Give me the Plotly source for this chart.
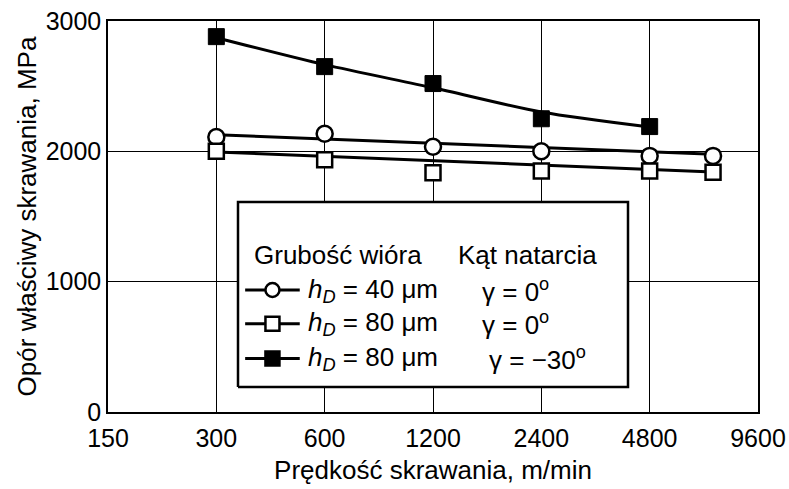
import plotly.graph_objects as go
import math

# ---- data ----
speed6 = [300, 600, 1200, 2400, 4800, 7200]
speed5 = [300, 600, 1200, 2400, 4800]
circle_h40_g0 = [2110, 2135, 2035, 2000, 1965, 1965]
open_h80_g0 = [2000, 1935, 1835, 1850, 1850, 1840]
filled_h80_g30 = [2880, 2650, 2520, 2250, 2190]

# fitted trend lines
fit_lin_x = [300, 7200]
fit_circle = [2128, 1977]
fit_open = [1995, 1841]
fit_filled_x = [300, 600, 1200, 2400, 4800]
fit_filled = [2872, 2665, 2488, 2302, 2187]

xticks = [150, 300, 600, 1200, 2400, 4800, 9600]
yticks = [0, 1000, 2000, 3000]

x_title = "Prędkość skrawania, m/min"
y_title = "Opór właściwy skrawania, MPa"
legend_header_1 = "Grubość wióra"
legend_header_2 = "Kąt natarcia"
legend_rows = [
    ("<i>h<sub>D</sub></i> = 40 μm", "γ = 0<sup>o</sup>", "circle", "white"),
    ("<i>h<sub>D</sub></i> = 80 μm", "γ = 0<sup>o</sup>", "square", "white"),
    ("<i>h<sub>D</sub></i> = 80 μm", "γ = −30<sup>o</sup>", "square", "black"),
]

FONT = "Liberation Sans, Arial, sans-serif"
FS = 26
TFS = 25
LW = 3

fig = go.Figure()

# trend lines
fig.add_trace(go.Scatter(x=fit_lin_x, y=fit_circle, mode="lines",
                         line=dict(color="black", width=LW), showlegend=False))
fig.add_trace(go.Scatter(x=fit_lin_x, y=fit_open, mode="lines",
                         line=dict(color="black", width=LW), showlegend=False))
fig.add_trace(go.Scatter(x=fit_filled_x, y=fit_filled, mode="lines",
                         line=dict(color="black", width=LW, shape="spline", smoothing=0.8),
                         showlegend=False))

# markers
fig.add_trace(go.Scatter(x=speed6, y=circle_h40_g0, mode="markers",
                         marker=dict(symbol="circle", size=16, color="white",
                                     line=dict(color="black", width=2.5)),
                         showlegend=False))
fig.add_trace(go.Scatter(x=speed6, y=open_h80_g0, mode="markers",
                         marker=dict(symbol="square", size=15, color="white",
                                     line=dict(color="black", width=2.5)),
                         showlegend=False))
fig.add_trace(go.Scatter(x=speed5, y=filled_h80_g30, mode="markers",
                         marker=dict(symbol="square", size=16, color="black",
                                     line=dict(color="black", width=1)),
                         showlegend=False))

# ---- custom legend box (on an overlay axis spanning the plot area) ----
bx0, bx1 = 0.20, 0.80
by0, by1 = 0.064, 0.537
fig.add_trace(go.Scatter(x=[bx0, bx1, bx1, bx0, bx0], y=[by0, by0, by1, by1, by0],
                         xaxis="x2", yaxis="y2", mode="lines", fill="toself",
                         fillcolor="white", line=dict(color="black", width=2.5),
                         showlegend=False, hoverinfo="skip"))

row_y = [0.312, 0.226, 0.137]
sx0, sx1, smid = 0.211, 0.295, 0.253
for (lab, gam, sym, fill), yy in zip(legend_rows, row_y):
    fig.add_trace(go.Scatter(x=[sx0, sx1], y=[yy, yy], xaxis="x2", yaxis="y2",
                             mode="lines", line=dict(color="black", width=LW),
                             showlegend=False, hoverinfo="skip"))
    fig.add_trace(go.Scatter(x=[smid], y=[yy], xaxis="x2", yaxis="y2",
                             mode="markers",
                             marker=dict(symbol=sym, size=14, color=fill,
                                         line=dict(color="black", width=2.5)),
                             showlegend=False, hoverinfo="skip"))
    fig.add_annotation(xref="x2", yref="y2", x=0.305, y=yy, text=lab,
                       showarrow=False, xanchor="left", yanchor="middle",
                       font=dict(family=FONT, size=FS, color="black"))
    gx = 0.572 if "30" not in gam else 0.583
    fig.add_annotation(xref="x2", yref="y2", x=gx, y=yy, text=gam,
                       showarrow=False, xanchor="left", yanchor="middle",
                       font=dict(family=FONT, size=FS, color="black"))

fig.add_annotation(xref="x2", yref="y2", x=0.222, y=0.402, text=legend_header_1,
                   showarrow=False, xanchor="left", yanchor="middle",
                   font=dict(family=FONT, size=FS, color="black"))
fig.add_annotation(xref="x2", yref="y2", x=0.536, y=0.402, text=legend_header_2,
                   showarrow=False, xanchor="left", yanchor="middle",
                   font=dict(family=FONT, size=FS, color="black"))

fig.update_layout(
    width=789, height=489,
    margin=dict(l=108, r=31, t=21, b=77, autoexpand=False),
    paper_bgcolor="white", plot_bgcolor="white",
    font=dict(family=FONT, size=FS, color="black"),
    xaxis=dict(type="log", range=[math.log10(150), math.log10(9600)],
               tickvals=xticks, ticktext=[str(v) for v in xticks],
               showgrid=True, gridcolor="black", gridwidth=1,
               showline=True, linecolor="black", linewidth=1.5, mirror=True,
               ticks="", zeroline=False, automargin=False,
               ticklabelstandoff=3,
               title=dict(text=x_title, font=dict(size=FS), standoff=10),
               tickfont=dict(size=TFS)),
    yaxis=dict(range=[0, 3000], tickvals=yticks,
               showgrid=True, gridcolor="black", gridwidth=1,
               showline=True, linecolor="black", linewidth=1.5, mirror=True,
               ticks="", zeroline=False, automargin=False,
               title=dict(text=y_title, font=dict(size=FS), standoff=2),
               tickfont=dict(size=TFS)),
    xaxis2=dict(overlaying="x", range=[0, 1], visible=False, fixedrange=True),
    yaxis2=dict(overlaying="y", range=[0, 1], visible=False, fixedrange=True),
    showlegend=False,
)

fig.write_html("out.html")
